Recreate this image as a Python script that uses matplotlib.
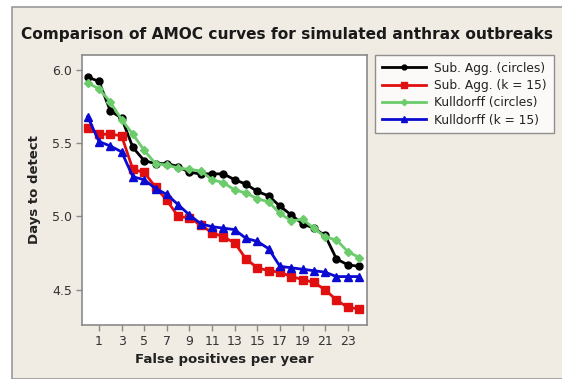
import matplotlib.pyplot as plt
from matplotlib.patches import Rectangle

# false positives per year
fp = list(range(25))

sub_agg_circles = [5.95, 5.92, 5.72, 5.67, 5.47, 5.38, 5.36, 5.36, 5.34, 5.30,
                   5.29, 5.29, 5.29, 5.25, 5.22, 5.17, 5.14, 5.07, 5.01, 4.95,
                   4.92, 4.87, 4.71, 4.67, 4.66]
sub_agg_k15 = [5.60, 5.56, 5.56, 5.55, 5.32, 5.30, 5.20, 5.11, 5.00, 4.99,
               4.94, 4.89, 4.86, 4.82, 4.71, 4.65, 4.63, 4.62, 4.59, 4.57,
               4.55, 4.50, 4.43, 4.38, 4.37]
kulldorff_circles = [5.91, 5.87, 5.78, 5.66, 5.56, 5.45, 5.36, 5.35, 5.33, 5.32,
                     5.31, 5.25, 5.23, 5.18, 5.16, 5.12, 5.10, 5.02, 4.97, 4.98,
                     4.92, 4.86, 4.84, 4.76, 4.72]
kulldorff_k15 = [5.68, 5.51, 5.48, 5.44, 5.27, 5.25, 5.19, 5.15, 5.08, 5.01,
                 4.95, 4.93, 4.92, 4.91, 4.85, 4.83, 4.78, 4.66, 4.65, 4.64,
                 4.63, 4.62, 4.59, 4.59, 4.59]

xticks = list(range(1, 24, 2))
yticks = [4.5, 5.0, 5.5, 6.0]

W, H = 562, 379
fig = plt.figure(figsize=(W / 100, H / 100), dpi=100)
fig.patch.set_facecolor("white")

# beige panel behind everything
fig.patches.append(Rectangle((12 / W, 0), 1.0, 1 - 7 / H, transform=fig.transFigure,
                             facecolor="#f0ebe3", edgecolor="#9a9a9a", lw=1.2,
                             zorder=-10))

fig.text(21 / W, 1 - 34 / H,
         "Comparison of AMOC curves for simulated anthrax outbreaks",
         fontsize=11.1, fontweight="bold", color="#1a1a1a", va="center", ha="left")

ax = fig.add_axes([82 / W, 1 - 325 / H, 285 / W, 270 / H])
ax.set_facecolor("white")

ax.plot(fp, sub_agg_circles, color="black", marker="o", ms=5, lw=2,
        label="Sub. Agg. (circles)")
ax.plot(fp, sub_agg_k15, color="#e01010", marker="s", ms=5.5, lw=2,
        label="Sub. Agg. (k = 15)")
ax.plot(fp, kulldorff_circles, color="#6ccc6c", marker="D", ms=4.5, lw=2,
        label="Kulldorff (circles)")
ax.plot(fp, kulldorff_k15, color="#0a0ad0", marker="^", ms=6, lw=2,
        label="Kulldorff (k = 15)")

ax.set_xlim(-0.5, 24.7)
ax.set_ylim(4.26, 6.10)
ax.set_xticks(xticks)
ax.set_yticks(yticks)
ax.set_yticklabels([f"{v:.1f}" for v in yticks])

for side in ax.spines.values():
    side.set_color("#8a8a8a")
    side.set_linewidth(1.2)
ax.tick_params(direction="out", length=4, width=1, color="#8a8a8a",
               labelsize=9, labelcolor="#333333", pad=3)

ax.set_xlabel("False positives per year", fontsize=9.5, fontweight="bold",
              color="#222222", labelpad=4)
ax.set_ylabel("Days to detect", fontsize=9.5, fontweight="bold",
              color="#222222", labelpad=8)

leg = fig.legend(loc="upper left", bbox_to_anchor=(375 / W, 1 - 55 / H),
                 borderaxespad=0, fontsize=8.8, frameon=True, fancybox=False,
                 handlelength=3.6, borderpad=0.55, labelspacing=0.35,
                 handletextpad=0.7, markerscale=0.7)
leg.get_frame().set_edgecolor("#777777")
leg.get_frame().set_linewidth(1.0)
for t in leg.get_texts():
    t.set_color("#222222")

fig.savefig("out.png", dpi=100)
